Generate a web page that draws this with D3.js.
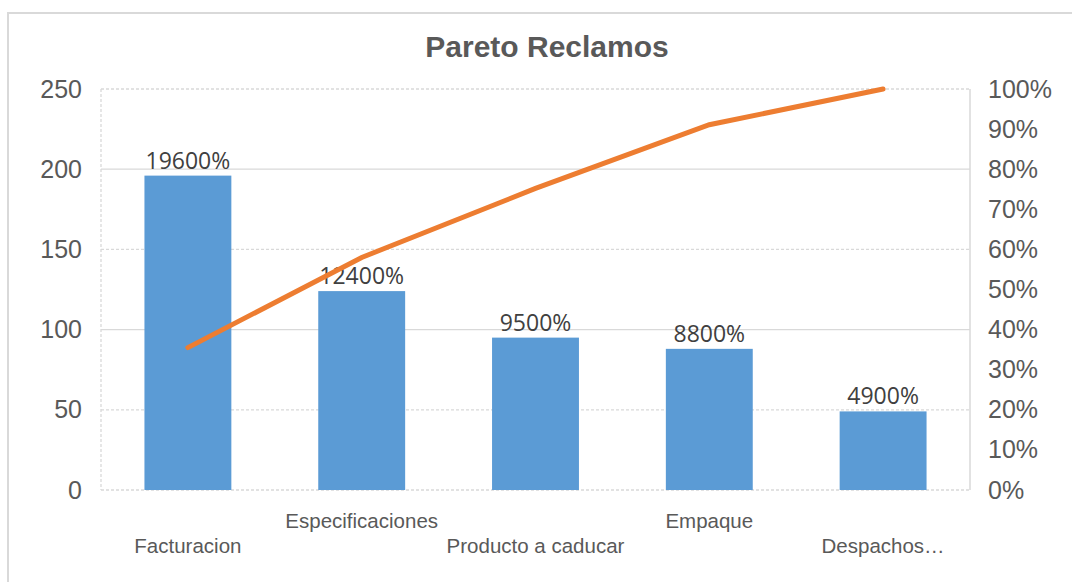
<!DOCTYPE html>
<html><head><meta charset="utf-8">
<script src="https://cdn.jsdelivr.net/npm/d3@7"></script>
<style>body{margin:0;background:#fff}svg{display:block}</style>
</head><body>
<script>
const categories = ["Facturacion","Especificaciones","Producto a caducar","Empaque","Despachos…"];
const reclamos = [196,124,95,88,49];
const barLabels = ["19600%","12400%","9500%","8800%","4900%"];
const cumulative = [0.355,0.580,0.752,0.911,1.0];
const leftTicks = [0,50,100,150,200,250];
const rightTicks = [0,0.1,0.2,0.3,0.4,0.5,0.6,0.7,0.8,0.9,1.0];

const W=1072,H=582;
const m={l:101,r:102,t:89,b:92};
const svg=d3.select("body").append("svg").attr("width",W).attr("height",H);
svg.append("rect").attr("x",8).attr("y",13).attr("width",W).attr("height",H)
  .attr("fill","#fff").attr("stroke","#d9d9d9").attr("stroke-width",2);

const x=d3.scaleBand().domain(categories).range([m.l,W-m.r]).paddingInner(0.5).paddingOuter(0.25);
const y=d3.scaleLinear().domain([0,250]).range([H-m.b,m.t]);
const y2=d3.scaleLinear().domain([0,1]).range([H-m.b,m.t]);

svg.append("text").attr("x",547).attr("y",57).attr("text-anchor","middle")
  .attr("font-family","Liberation Sans, Arial").attr("font-weight","bold")
  .attr("font-size",30).attr("fill","#595959").text("Pareto Reclamos");

// grid
svg.append("g").selectAll("line").data(leftTicks).join("line")
  .attr("x1",m.l).attr("x2",W-m.r).attr("y1",d=>y(d)).attr("y2",d=>y(d))
  .attr("stroke","#d9d9d9").attr("stroke-width",1.3)
  .attr("stroke-dasharray",(d,i)=> (i%2===1||i===0)?"3,2":null);
// plot frame sides
svg.append("line").attr("x1",m.l).attr("x2",m.l).attr("y1",m.t).attr("y2",H-m.b)
  .attr("stroke","#d9d9d9").attr("stroke-width",1.3).attr("stroke-dasharray","3,2");
svg.append("line").attr("x1",W-m.r).attr("x2",W-m.r).attr("y1",m.t).attr("y2",H-m.b)
  .attr("stroke","#d9d9d9").attr("stroke-width",1.5);

// bars
svg.append("g").selectAll("rect").data(reclamos).join("rect")
  .attr("x",(d,i)=>x(categories[i])).attr("width",x.bandwidth())
  .attr("y",d=>y(d)).attr("height",d=>y(0)-y(d)).attr("fill","#5B9BD5");

// bar labels
svg.append("g").selectAll("text").data(reclamos).join("text")
  .attr("x",(d,i)=>x(categories[i])+x.bandwidth()/2).attr("y",d=>y(d)-7)
  .attr("text-anchor","middle").attr("font-family","Open Sans, DejaVu Sans, sans-serif")
  .attr("font-size",23).attr("fill","#404040").text((d,i)=>barLabels[i]);

// line
const line=d3.line().x((d,i)=>x(categories[i])+x.bandwidth()/2).y(d=>y2(d));
svg.append("path").datum(cumulative).attr("d",line).attr("fill","none")
  .attr("stroke","#ED7D31").attr("stroke-width",5).attr("stroke-linecap","round");

// left axis
const yAxis=d3.axisLeft(y).tickValues(leftTicks).tickSize(0).tickPadding(19);
const gl=svg.append("g").attr("transform",`translate(${m.l},0)`).call(yAxis);
gl.select(".domain").remove();
gl.selectAll("text").attr("font-family","Liberation Sans, Arial")
  .attr("font-size",25).attr("fill","#595959");

// right axis
const yAxis2=d3.axisRight(y2).tickValues(rightTicks).tickFormat(d3.format(".0%")).tickSize(0).tickPadding(18);
const gr=svg.append("g").attr("transform",`translate(${W-m.r},0)`).call(yAxis2);
gr.select(".domain").remove();
gr.selectAll("text").attr("font-family","Liberation Sans, Arial")
  .attr("font-size",25).attr("fill","#595959");

// category labels staggered
svg.append("g").selectAll("text").data(categories).join("text")
  .attr("x",d=>x(d)+x.bandwidth()/2).attr("y",(d,i)=>i%2===0?553:528)
  .attr("text-anchor","middle").attr("font-family","Liberation Sans, Arial")
  .attr("font-size",20.5).attr("fill","#595959").text(d=>d);
</script>
</body></html>
